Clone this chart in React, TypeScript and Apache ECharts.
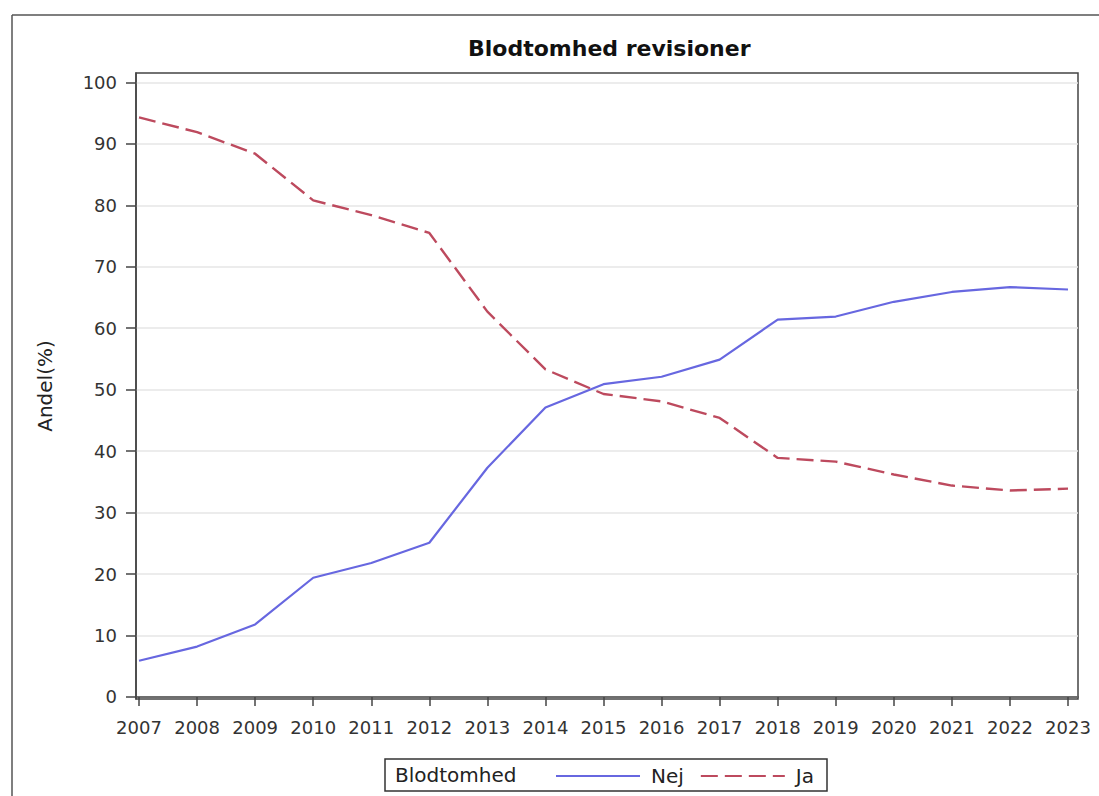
import React, { useEffect, useRef } from "react";
import * as echarts from "echarts";

const years: number[] = [2007, 2008, 2009, 2010, 2011, 2012, 2013, 2014, 2015, 2016, 2017, 2018, 2019, 2020, 2021, 2022, 2023];
const nejValues: number[] = [5.9, 8.2, 11.8, 19.4, 21.8, 25.1, 37.3, 47.1, 50.9, 52.1, 54.9, 61.4, 61.9, 64.3, 65.9, 66.7, 66.3];
const jaValues: number[] = [94.3, 91.9, 88.4, 80.8, 78.4, 75.5, 62.7, 53.3, 49.3, 48.1, 45.4, 38.9, 38.3, 36.2, 34.4, 33.6, 33.9];
const yTicks: number[] = [0, 10, 20, 30, 40, 50, 60, 70, 80, 90, 100];
const titleText = "Blodtomhed revisioner";
const yAxisName = "Andel(%)";
const legendTitle = "Blodtomhed";
const seriesNames = ["Nej", "Ja"];

const FONT = "DejaVu Sans";

export default function App() {
  const ref = useRef<HTMLDivElement>(null);
  useEffect(() => {
    if (!ref.current) return;
    const chart = echarts.init(ref.current, undefined, { renderer: "svg" });
    const option: any = {
      animation: false,
      backgroundColor: "#ffffff",
      title: {
        text: titleText,
        left: 463,
        top: 32,
        textStyle: { fontFamily: FONT, fontSize: 22, fontWeight: "bold", color: "#111" },
      },
      grid: {
        left: 136,
        right: 21,
        top: 73,
        bottom: 97,
        show: true,
        borderColor: "#444",
        borderWidth: 1.5,
        backgroundColor: "transparent",
      },
      legend: {
        data: seriesNames,
        left: 555,
        top: 766,
        padding: 0,
        itemWidth: 84,
        itemHeight: 14,
        itemGap: 16,
        itemStyle: { opacity: 0 },
        textStyle: { fontFamily: FONT, fontSize: 20, color: "#222", padding: [0, 0, 0, 6] },
      },
      xAxis: {
        type: "value",
        min: 2006.948,
        max: 2023.172,
        axisLine: { show: true, lineStyle: { color: "#444", width: 1.5 } },
        axisTick: { show: true, length: 9, customValues: years, lineStyle: { color: "#444", width: 1.5 } },
        axisLabel: {
          customValues: years,
          margin: 19,
          fontFamily: FONT,
          fontSize: 18,
          color: "#333",
          formatter: (v: number) => String(Math.round(v)),
        },
        splitLine: { show: false },
      },
      yAxis: {
        type: "value",
        min: -0.33,
        max: 101.53,
        name: yAxisName,
        nameLocation: "middle",
        nameRotate: 90,
        nameGap: 81,
        nameTextStyle: { fontFamily: FONT, fontSize: 20, color: "#222" },
        axisLine: { show: true, lineStyle: { color: "#444", width: 1.5 } },
        axisTick: { show: true, length: 10, customValues: yTicks, lineStyle: { color: "#444", width: 1.5 } },
        axisLabel: {
          customValues: yTicks,
          margin: 19,
          fontFamily: FONT,
          fontSize: 18,
          color: "#333",
          formatter: (v: number) => String(Math.round(v)),
        },
        splitLine: { show: true, lineStyle: { color: "#e6e6e6", width: 1.5 } },
      },
      series: [
        {
          name: seriesNames[0],
          type: "line",
          data: years.map((y, i) => [y, nejValues[i]]),
          symbol: "none",
          lineStyle: { color: "#6767e0", width: 2.2 },
          itemStyle: { color: "#6767e0" },
          z: 3,
        },
        {
          name: seriesNames[1],
          type: "line",
          data: years.map((y, i) => [y, jaValues[i]]),
          symbol: "none",
          lineStyle: { color: "#bd4a5e", width: 2.4, type: [17, 7] },
          itemStyle: { color: "#bd4a5e" },
          z: 3,
        },
      ],
      graphic: [
        { type: "line", shape: { x1: 12, y1: 15, x2: 1099, y2: 15 }, style: { stroke: "#555", lineWidth: 1.5 } },
        { type: "line", shape: { x1: 12, y1: 15, x2: 12, y2: 796 }, style: { stroke: "#555", lineWidth: 1.5 } },
        {
          type: "rect",
          shape: { x: 385, y: 759, width: 442, height: 32 },
          style: { fill: "none", stroke: "#333", lineWidth: 1.5 },
        },
        {
          type: "text",
          x: 395,
          y: 775,
          style: {
            text: legendTitle,
            fontFamily: FONT,
            fontSize: 20,
            fill: "#222",
            verticalAlign: "middle",
            textAlign: "left",
          },
        },
      ],
    };
    chart.setOption(option);
    return () => chart.dispose();
  }, []);
  return (
    <div
      ref={ref}
      style={{ position: "absolute", left: 0, top: 0, width: 1099, height: 796 }}
    />
  );
}
